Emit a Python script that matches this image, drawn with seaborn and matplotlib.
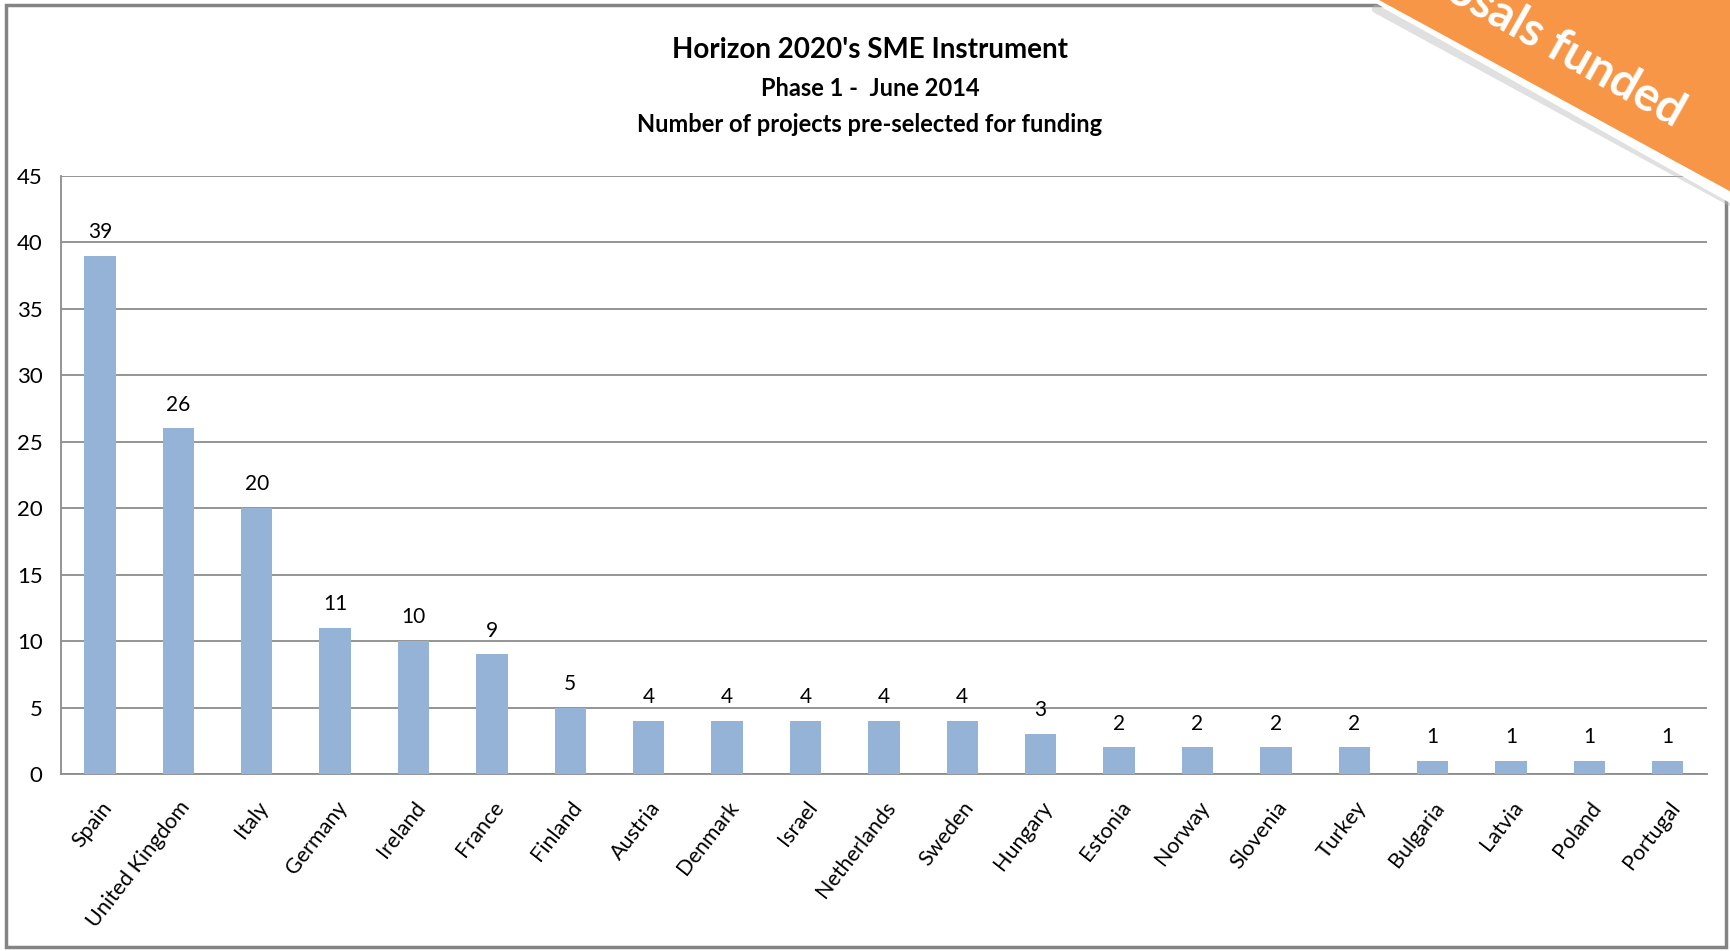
import matplotlib
matplotlib.use('Agg')
import matplotlib.pyplot as plt
import seaborn as sns
import pandas as pd
from matplotlib.patches import Polygon, Rectangle
from matplotlib.lines import Line2D

countries = ['Spain', 'United Kingdom', 'Italy', 'Germany', 'Ireland', 'France', 'Finland',
             'Austria', 'Denmark', 'Israel', 'Netherlands', 'Sweden', 'Hungary', 'Estonia',
             'Norway', 'Slovenia', 'Turkey', 'Bulgaria', 'Latvia', 'Poland', 'Portugal']
projects = [39, 26, 20, 11, 10, 9, 5, 4, 4, 4, 4, 4, 3, 2, 2, 2, 2, 1, 1, 1, 1]
y_ticks = [0, 5, 10, 15, 20, 25, 30, 35, 40, 45]

title_lines = ["Horizon 2020's SME Instrument", "Phase 1 -  June 2014",
               "Number of projects pre-selected for funding"]
banner_text = "Proposals funded"

sns.set_style('white')
plt.rcParams['font.family'] = ['Lato', 'DejaVu Sans']
plt.rcParams['text.color'] = 'black'
plt.rcParams['xtick.color'] = 'black'
plt.rcParams['ytick.color'] = 'black'

df = pd.DataFrame({'country': countries, 'projects': projects})

W, H = 1730, 951
fig = plt.figure(figsize=(W / 100, H / 100), dpi=100)
ax = fig.add_axes([60.7 / W, 1 - 774 / H, (1707 - 60.7) / W, (774 - 176) / H])

sns.barplot(data=df, x='country', y='projects', color='#95B3D7', saturation=1,
            width=0.40, linewidth=0, ax=ax, zorder=3)
ax.set_xlim(-0.5, len(countries) - 0.5)
ax.set_ylim(0, 45)
ax.set_yticks(y_ticks)
ax.set_xlabel('')
ax.set_ylabel('')
ax.yaxis.grid(True, color='#8C8C8C', linewidth=1.3, zorder=0)
ax.set_axisbelow(True)
for s in ['top', 'right']:
    ax.spines[s].set_visible(False)
for s in ['left', 'bottom']:
    ax.spines[s].set_color('#8C8C8C')
    ax.spines[s].set_linewidth(1.3)
ax.tick_params(axis='y', length=0, labelsize=16, pad=13)
ax.tick_params(axis='x', length=0, labelsize=15.5, pad=17)
plt.setp(ax.get_xticklabels(), rotation=52, ha='right', rotation_mode='anchor')

ax.bar_label(ax.containers[0], labels=[str(v) for v in projects], padding=10, fontsize=15)

# title block
cx = 870 / W
fig.text(cx, 1 - 50 / H, title_lines[0], ha='center', va='center', fontsize=20, fontweight='bold')
fig.text(cx, 1 - 88 / H, title_lines[1], ha='center', va='center', fontsize=17, fontweight='bold')
fig.text(cx, 1 - 125 / H, title_lines[2], ha='center', va='center', fontsize=17, fontweight='bold')

# chart frame
fig.patches.append(Rectangle((6 / W, 4 / H), (1726 - 6) / W, (946 - 4) / H, transform=fig.transFigure,
                             fill=False, edgecolor='#848484', linewidth=2.5, zorder=1))

# corner banner
x0, y0 = 1382, 0
x1, y1 = 1730, 197
def fp(x, y):
    return (x / W, 1 - y / H)
shadow = Line2D([(x0 - 6) / W, (x1 + 8) / W], [1 - (y0 + 9) / H, 1 - (y1 + 9) / H],
                transform=fig.transFigure, color='#BBBBBB', linewidth=6, alpha=0.45, zorder=5)
fig.lines.append(shadow)
white = Polygon([fp(x0 - 12, y0), fp(x1 + 5, y0), fp(x1 + 5, y1 + 6), fp(x1, y1 + 6)],
                closed=True, transform=fig.transFigure, facecolor='white', edgecolor='none', zorder=6)
fig.patches.append(white)
orange = Polygon([fp(x0 - 3, y0), fp(x1 + 5, y0), fp(x1 + 5, y1 - 3)],
                 closed=True, transform=fig.transFigure, facecolor='#F79646', edgecolor='none', zorder=7)
fig.patches.append(orange)
fig.text(1674 / W, 1 - 128 / H, banner_text, rotation=-29.4, rotation_mode='anchor',
         ha='right', va='baseline', color='white', fontsize=34, fontweight='bold',
         family=['Lato', 'DejaVu Sans'], zorder=8)

fig.savefig('out.png', dpi=100, facecolor='white')
